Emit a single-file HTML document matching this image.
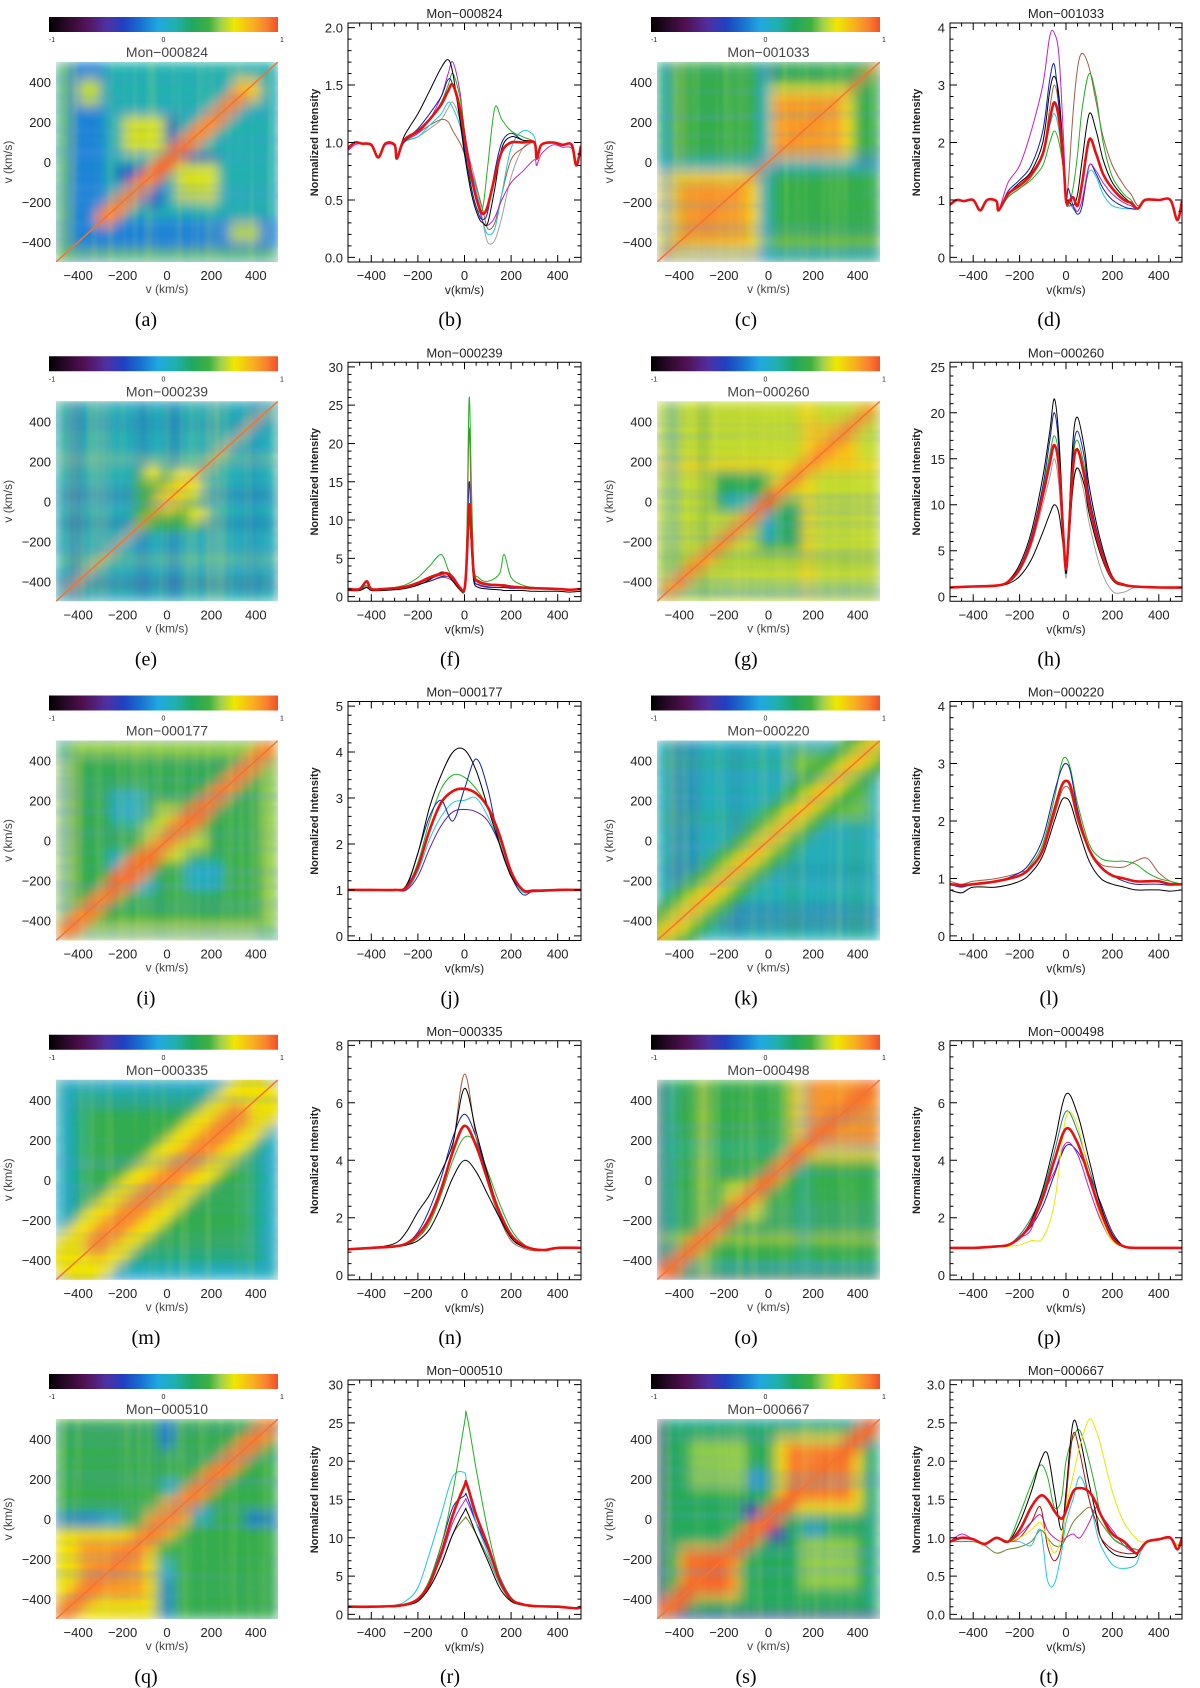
<!DOCTYPE html>
<html><head><meta charset="utf-8"><style>
html,body{margin:0;padding:0;background:#fff;}
svg{display:block;font-family:"Liberation Sans",sans-serif;}
</style></head><body>
<svg id="fig" width="1200" height="1688" viewBox="0 0 1200 1688">
<defs>
<filter id="blur" x="-5%" y="-5%" width="110%" height="110%"><feGaussianBlur stdDeviation="6"/></filter>
<filter id="streakH" x="0" y="0" width="100%" height="100%"><feTurbulence type="fractalNoise" baseFrequency="0.003 0.09" numOctaves="2" seed="3"/><feColorMatrix type="matrix" values="0 0 0 0 0.1  0 0 0 0 0.3  0 0 0 0 0.8  0 0 0 1.2 -0.45"/></filter>
<filter id="streakV" x="0" y="0" width="100%" height="100%"><feTurbulence type="fractalNoise" baseFrequency="0.09 0.003" numOctaves="2" seed="7"/><feColorMatrix type="matrix" values="0 0 0 0 0.9  0 0 0 0 0.9  0 0 0 0 0.1  0 0 0 1.2 -0.5"/></filter>
</defs>
</svg>
<script>
// ---------------- spectrum data ----------------
const vel_b=[-500,-470,-440,-400,-370,-340,-300,-290,-260,-200,-150,-100,-70,-50,-20,0,30,60,80,100,130,160,200,250,300,310,330,380,420,460,480,500];
const b_black=[0.95,1.0,0.99,0.98,0.87,0.99,0.98,0.86,1.05,1.25,1.45,1.65,1.72,1.6,1.2,0.9,0.55,0.35,0.3,0.3,0.6,0.95,1.05,1.02,1.0,0.86,0.98,1.0,0.98,0.98,0.80,0.97];
const b_magenta=[0.93,0.98,0.99,0.97,0.88,0.98,0.97,0.87,1.0,1.08,1.2,1.4,1.6,1.7,1.45,1.1,0.75,0.45,0.3,0.28,0.35,0.5,0.65,0.75,0.85,0.8,0.9,0.98,0.96,0.95,0.82,0.95];
const b_green=[0.96,1.0,0.99,0.98,0.88,0.99,0.98,0.87,1.0,1.1,1.2,1.35,1.5,1.6,1.4,1.1,0.6,0.4,0.45,0.8,1.3,1.2,1.1,1.05,1.0,0.87,0.98,1.0,0.98,0.98,0.8,0.97];
const b_cyan=[0.95,1.0,0.99,0.98,0.87,0.99,0.98,0.86,1.0,1.05,1.15,1.25,1.35,1.3,1.15,0.95,0.75,0.5,0.3,0.2,0.25,0.55,0.95,1.1,1.05,0.88,0.98,1.0,0.98,0.98,0.8,0.97];
const b_brown=[0.95,1.0,0.99,0.98,0.87,0.99,0.98,0.86,1.0,1.08,1.15,1.2,1.18,1.1,1.0,0.9,0.75,0.55,0.4,0.25,0.3,0.55,0.85,0.95,1.0,0.86,0.98,1.0,0.98,0.98,0.8,0.97];
const b_blue=[0.95,1.0,0.99,0.98,0.87,0.99,0.98,0.86,1.0,1.12,1.25,1.4,1.55,1.5,1.25,0.95,0.6,0.38,0.33,0.4,0.75,1.0,1.08,1.02,1.0,0.86,0.98,1.0,0.98,0.98,0.8,0.97];
const b_grey=[0.95,1.0,0.99,0.98,0.87,0.99,0.98,0.86,1.0,1.05,1.12,1.2,1.3,1.35,1.2,1.0,0.8,0.55,0.3,0.13,0.15,0.35,0.7,0.95,1.0,0.86,0.98,1.0,0.98,0.98,0.8,0.97];
const b_red=[0.95,1.0,0.99,0.98,0.87,0.99,0.98,0.86,1.02,1.10,1.20,1.33,1.45,1.50,1.30,1.05,0.70,0.45,0.38,0.45,0.70,0.92,1.0,1.0,1.0,0.86,0.98,1.0,0.98,0.98,0.80,0.97];

const vel_d=[-500,-470,-440,-400,-370,-340,-300,-290,-250,-200,-150,-100,-70,-50,-30,-10,0,10,30,50,70,100,130,160,200,250,280,310,340,400,450,480,500];
const d_magenta=[0.92,1.0,0.98,1.0,0.82,1.0,0.98,0.82,1.3,1.6,2.2,3.0,3.85,3.9,3.5,2.0,1.0,0.9,0.9,0.8,1.0,1.6,1.5,1.3,1.1,0.95,0.9,0.85,1.0,1.0,1.0,0.65,0.98];
const d_brown=[0.92,1.0,0.98,1.0,0.82,1.0,0.98,0.82,1.05,1.2,1.4,1.8,2.6,3.0,2.6,1.6,1.0,1.3,2.5,3.3,3.55,3.3,2.7,2.1,1.6,1.25,1.1,0.9,1.0,1.0,1.0,0.65,0.98];
const d_green=[0.92,1.0,0.98,1.0,0.82,1.0,0.98,0.82,1.05,1.2,1.35,1.6,2.0,2.2,2.0,1.5,1.0,0.9,1.2,1.8,2.6,3.2,2.8,2.0,1.4,1.1,1.0,0.85,1.0,1.0,1.0,0.65,0.98];
const d_blue=[0.92,1.0,0.98,1.0,0.82,1.0,0.98,0.82,1.15,1.35,1.6,2.2,3.1,3.35,2.6,1.5,1.0,1.2,0.9,0.75,0.9,1.6,1.45,1.2,1.0,0.88,0.85,0.85,1.0,1.0,1.0,0.65,0.98];
const d_black=[0.92,1.0,0.98,1.0,0.82,1.0,0.98,0.82,1.1,1.3,1.5,2.0,2.9,3.15,2.8,1.7,1.0,1.0,0.9,1.1,1.7,2.5,2.2,1.7,1.3,1.05,0.95,0.85,1.0,1.0,1.0,0.65,0.98];
const d_cyan=[0.92,1.0,0.98,1.0,0.82,1.0,0.98,0.82,1.05,1.2,1.4,1.8,2.3,2.5,2.2,1.5,1.0,1.0,0.85,0.8,1.0,1.5,1.4,1.1,0.9,0.85,0.85,0.85,1.0,1.0,1.0,0.65,0.98];
const d_red=[0.92,1.0,0.98,1.0,0.82,1.0,0.98,0.82,1.1,1.25,1.45,1.8,2.4,2.7,2.4,1.6,1.0,0.95,1.05,0.9,1.3,2.05,1.8,1.45,1.2,1.0,0.95,0.85,1.0,1.0,1.0,0.65,0.98];

const vel_f=[-500,-450,-420,-400,-350,-300,-250,-200,-150,-100,-70,-50,-20,0,10,20,30,40,60,100,150,170,200,250,300,400,450,500];
const f_green=[1.0,1.0,1.5,1.0,1.0,1.2,1.6,2.5,4.0,5.5,3.5,2.5,1.3,1.0,8.0,26.0,14.0,4.0,2.5,2.0,3.0,5.5,2.5,1.5,1.2,1.0,0.9,1.0];
const f_black=[0.8,0.8,1.2,0.8,0.8,0.9,1.1,1.5,2.2,3.2,2.8,2.0,0.9,0.7,4.0,11.0,6.0,2.0,1.2,1.0,0.9,0.8,0.8,0.8,0.7,0.7,0.6,0.7];
const f_brown=[1.0,1.0,1.3,1.0,1.0,1.1,1.3,1.7,2.3,2.8,2.6,2.2,1.1,1.0,7.0,22.0,10.0,3.0,1.8,1.5,1.5,1.6,1.4,1.2,1.1,1.0,0.9,1.0];
const f_blue=[1.0,1.0,1.2,1.0,1.0,1.1,1.3,1.6,2.0,2.6,2.6,2.2,1.2,1.0,6.0,15.0,9.0,2.5,1.6,1.3,1.2,1.2,1.1,1.1,1.0,1.0,0.9,1.0];
const f_magenta=[1.0,1.0,1.2,1.0,1.0,1.1,1.3,1.6,2.0,2.5,2.4,2.0,1.1,1.0,4.0,10.0,6.5,2.3,1.5,1.2,1.2,1.2,1.1,1.1,1.0,1.0,0.9,1.0];
const f_red=[1.0,1.0,2.0,1.0,1.0,1.1,1.3,1.8,2.5,3.0,3.0,2.5,1.2,1.0,5.0,12.0,8.0,3.0,2.0,1.6,1.5,1.4,1.3,1.2,1.1,1.0,0.9,1.0];

const vel_h=[-500,-400,-300,-250,-200,-150,-100,-70,-50,-30,-10,0,10,30,50,80,100,150,200,250,300,400,500];
const h_black=[1.0,1.1,1.2,1.7,3.5,7.0,13.0,18.0,21.5,17.0,7.0,3.0,7.0,17.0,19.5,16.0,12.0,6.0,2.2,1.3,1.1,1.0,1.0];
const h_blue=[1.0,1.1,1.2,1.6,3.2,6.5,12.0,17.0,20.0,16.0,6.0,2.5,6.0,15.5,18.0,15.0,11.0,5.5,2.0,1.3,1.1,1.0,1.0];
const h_black2=[1.0,1.1,1.2,1.4,2.2,4.0,7.0,9.0,10.0,9.0,5.0,2.5,5.0,12.0,14.0,12.0,9.0,4.5,1.8,1.2,1.1,1.0,1.0];
const h_grey=[1.0,1.1,1.2,1.5,2.8,5.5,10.0,13.0,15.0,12.0,5.0,2.0,5.0,12.0,14.0,11.0,8.0,3.0,0.6,0.5,1.0,1.0,1.0];
const h_green=[1.0,1.1,1.2,1.6,3.0,6.0,11.5,15.5,17.5,15.0,6.0,3.0,6.5,15.0,17.0,14.0,10.5,5.0,2.0,1.3,1.1,1.0,1.0];
const h_red=[1.0,1.1,1.2,1.6,3.0,6.0,11.0,14.5,16.5,14.0,6.0,3.0,6.0,14.0,16.0,13.0,10.0,5.0,2.0,1.3,1.1,1.0,1.0];

const vel_j=[-500,-400,-300,-250,-200,-150,-100,-50,0,50,100,150,200,250,300,400,500];
const j_black=[1,1,1,1.1,1.8,2.8,3.5,4.0,4.05,3.6,2.8,2.0,1.3,1.0,1.0,1,1];
const j_blue=[1,1,1,1.05,1.8,2.6,2.95,2.5,3.2,3.85,3.2,2.0,1.3,0.9,0.98,1,1];
const j_purple=[1,1,1,1.0,1.3,1.9,2.4,2.7,2.75,2.7,2.5,2.0,1.3,1.0,0.98,1,1];
const j_green=[1,1,1,1.05,1.6,2.5,3.2,3.5,3.45,3.2,2.8,2.1,1.4,1.0,0.98,1,1];
const j_cyan=[1,1,1,1.0,1.4,2.1,2.6,2.9,2.95,3.0,2.6,2.0,1.3,0.95,0.98,1,1];
const j_red=[1,1,1,1.05,1.5,2.3,2.9,3.15,3.2,3.1,2.8,2.2,1.4,1.0,0.98,1.0,1.0];

const vel_l=[-500,-450,-400,-300,-200,-150,-100,-50,-20,0,20,50,100,150,200,250,300,350,400,450,500];
const l_black=[0.8,0.75,0.85,0.85,0.95,1.1,1.4,2.0,2.35,2.4,2.3,1.9,1.3,1.0,0.9,0.85,0.8,0.8,0.8,0.78,0.8];
const l_blue=[0.9,0.85,0.9,0.95,1.1,1.3,1.7,2.5,2.9,3.0,2.85,2.2,1.5,1.2,1.05,0.95,0.9,0.9,0.9,0.88,0.9];
const l_green=[0.9,0.88,0.9,0.95,1.05,1.25,1.6,2.4,3.0,3.1,2.9,2.3,1.6,1.35,1.3,1.3,1.25,1.1,1.0,0.95,0.9];
const l_brown=[0.95,0.9,0.95,1.0,1.1,1.2,1.5,2.1,2.5,2.6,2.5,2.0,1.5,1.25,1.2,1.2,1.3,1.35,1.1,0.95,0.9];
const l_red=[0.9,0.88,0.9,0.95,1.05,1.2,1.5,2.2,2.6,2.7,2.6,2.1,1.5,1.2,1.05,1.0,0.95,0.95,0.95,0.9,0.9];

const vel_n=[-500,-400,-300,-250,-200,-150,-100,-50,0,50,100,150,200,250,300,350,400,500];
const n_black=[0.9,0.95,1.1,1.5,2.2,2.8,3.6,4.6,6.5,5.0,3.5,2.2,1.3,1.0,0.9,0.9,0.95,0.95];
const n_black2=[0.9,0.95,1.0,1.05,1.2,1.6,2.4,3.4,4.0,3.6,2.8,2.0,1.3,1.0,0.9,0.88,0.95,0.95];
const n_brown=[0.9,0.95,1.0,1.1,1.3,1.9,2.9,4.5,7.0,4.8,3.2,2.0,1.2,0.95,0.85,0.88,0.95,0.95];
const n_green=[0.9,0.95,1.0,1.05,1.3,1.8,2.8,4.0,4.8,4.6,3.6,2.5,1.6,1.1,0.9,0.88,0.95,0.95];
const n_blue=[0.9,0.95,1.0,1.1,1.5,2.3,3.4,4.8,5.6,4.8,3.4,2.1,1.3,1.0,0.9,0.88,0.95,0.95];
const n_red=[0.9,0.95,1.0,1.1,1.4,2.0,3.0,4.3,5.2,4.5,3.3,2.2,1.4,1.05,0.9,0.88,0.95,0.95];

const vel_p=[-500,-400,-300,-250,-200,-150,-100,-50,0,50,100,150,200,250,300,350,400,500];
const p_black=[0.95,0.95,1.0,1.05,1.3,1.9,3.0,4.6,6.3,5.6,4.0,2.4,1.4,1.0,0.95,0.95,0.95,0.95];
const p_yellow=[0.95,0.95,1.0,1.0,1.05,1.2,1.3,2.5,5.5,5.2,3.5,2.0,1.2,1.0,0.95,0.95,0.95,0.95];
const p_magenta=[0.95,0.95,1.0,1.05,1.3,1.6,2.8,3.6,4.6,4.2,3.0,1.9,1.2,1.0,0.95,0.95,0.95,0.95];
const p_teal=[0.95,0.95,1.0,1.05,1.4,2.0,2.9,4.3,5.7,5.0,3.7,2.4,1.4,1.0,0.95,0.95,0.95,0.95];
const p_blue=[0.95,0.95,1.0,1.05,1.3,1.7,2.4,3.5,4.5,4.3,3.5,2.5,1.5,1.0,0.95,0.95,0.95,0.95];
const p_red=[0.95,0.95,1.0,1.05,1.3,1.8,2.7,4.0,5.1,4.6,3.4,2.2,1.3,1.0,0.95,0.95,0.95,0.95];

const vel_r=[-500,-400,-300,-250,-200,-150,-100,-50,0,10,50,100,150,200,250,300,400,480,500];
const r_green=[1,1,1.1,1.3,2.0,4.5,9,16,25,26,19,11,5,2.2,1.3,1.1,1,0.8,1];
const r_cyan=[1,1,1.2,1.8,3.5,8,13,18,18.5,17,12,8,4,2,1.3,1.1,1,0.9,1];
const r_black=[1,1,1.0,1.2,1.7,3.5,6.5,10.5,13.5,13.5,10.5,7,3.5,1.7,1.2,1.0,1,0.8,1];
const r_olive=[1,1,1.0,1.2,1.8,3.5,6.5,10.5,12.5,12.5,10.5,7.5,4,1.8,1.2,1.0,1,0.8,1];
const r_blue=[1,1,1.1,1.3,2.0,4.5,9,14,15.5,15.5,12,8.5,4.5,2,1.3,1.1,1,0.8,1];
const r_magenta=[1,1,1.1,1.3,2.0,4,7.5,12,14.8,14.8,12,9,5,2.2,1.3,1.1,1,0.8,1];
const r_red=[1,1,1.1,1.3,2.0,4,8,13,16.8,17,13,9,4.5,2,1.3,1.1,1,0.8,1];

const vel_t=[-500,-450,-400,-350,-300,-250,-200,-150,-110,-80,-50,-20,0,30,60,100,130,150,200,250,300,320,350,400,450,480,500];
const t_yellow=[0.95,1.0,0.98,0.92,1.0,0.95,1.0,1.1,1.2,1.0,0.8,1.0,1.4,1.8,2.2,2.55,2.4,2.2,1.6,1.2,1.0,0.95,0.95,0.98,1.0,0.9,1.0];
const t_cyan=[0.95,1.0,0.98,0.92,1.0,0.95,0.95,0.9,1.1,0.45,0.4,0.8,1.2,1.5,1.8,1.5,1.1,0.9,0.65,0.6,0.65,0.8,0.95,0.98,1.0,0.9,1.0];
const t_black=[0.95,1.0,0.98,0.92,1.0,0.95,1.2,1.6,2.0,2.1,1.6,1.1,1.6,2.5,2.3,1.7,1.3,1.0,0.8,0.75,0.75,0.85,0.95,0.98,1.0,0.9,1.0];
const t_green=[0.95,1.0,0.98,0.92,1.0,0.95,1.3,1.7,1.95,1.8,1.4,1.5,2.0,2.3,2.4,2.0,1.6,1.3,1.0,0.9,0.85,0.85,0.95,0.98,1.0,0.9,1.0];
const t_olive=[0.95,0.95,0.95,0.9,0.8,0.85,0.88,0.95,1.1,1.0,0.9,0.9,1.0,1.2,1.3,1.4,1.3,1.2,1.0,0.9,0.85,0.85,0.95,0.98,1.0,0.9,1.0];
const t_darkred=[0.95,1.0,0.98,0.92,1.0,0.95,1.0,1.2,1.4,0.9,0.7,0.9,1.5,2.35,2.1,1.5,1.2,1.0,0.85,0.8,0.8,0.85,0.95,0.98,1.0,0.9,1.0];
const t_magenta=[0.95,1.05,0.98,0.92,1.0,0.95,1.05,1.2,1.3,1.1,1.0,0.95,1.0,1.05,1.0,1.2,1.4,1.3,1.1,0.9,0.8,0.85,0.95,0.98,1.0,0.9,1.0];
const t_red=[0.95,1.0,0.98,0.92,1.0,0.95,1.1,1.4,1.55,1.5,1.35,1.25,1.35,1.6,1.65,1.6,1.45,1.3,1.05,0.95,0.8,0.85,0.95,0.98,1.0,0.85,1.0];

// y-axis tick labels per spectrum
const ticks_b=["0.0","0.5","1.0","1.5","2.0"];
const ticks_d=["0","1","2","3","4"];
const ticks_f=["0","5","10","15","20","25","30"];
const ticks_h=["0","5","10","15","20","25"];
const ticks_j=["0","1","2","3","4","5"];
const ticks_l=["0","1","2","3","4"];
const ticks_n=["0","2","4","6","8"];
const ticks_p=["0","2","4","6","8"];
const ticks_r=["0","5","10","15","20","25","30"];
const ticks_t=["0.0","0.5","1.0","1.5","2.0","2.5","3.0"];
const xTicks=[-400,-200,0,200,400];
const hmYTicks=[400,200,0,-200,-400];

// ---------------- correlation-map regions [v1a,v1b,v2a,v2b,corr] ----------------
const hm_a=[[-500,500,-500,500,0.1],[-500,500,-450,-280,-0.15],[-400,-300,280,420,0.55],[300,420,300,420,0.7],[-200,-10,40,230,0.58],[0,40,60,230,-0.4],[-230,-100,-100,-20,-0.3],[-480,-440,-500,500,0.45]];
const diag_a=[[-280,320,45,0.88],[-60,60,30,0.97]];
const hm_c=[[-500,500,-500,500,0.35],[-500,-40,-500,-80,0.68],[-420,-100,-420,-120,0.85],[0,380,0,380,0.62],[20,340,20,340,0.83],[-500,-50,60,500,0.35],[-500,500,-40,10,0.05],[420,470,-10,20,-0.45],[-500,500,-470,-445,0.0],[-500,500,-405,-392,0.55]];
const diag_c=[[-480,480,12,0.9]];
const hm_e=[[-500,500,-500,500,0.08],[-500,500,20,40,-0.4],[-500,500,-120,-100,-0.35],[-500,500,200,215,0.5],[-500,500,-300,-288,0.5],[-500,500,-420,-400,-0.5],[-500,500,380,392,-0.3],[-150,150,-150,150,0.38],[-60,80,-30,40,0.68],[-100,-30,100,180,0.62],[20,120,60,160,0.62],[-40,0,-40,0,0.12]];
const diag_e=[[-450,450,10,0.8]];
const hm_g=[[-500,500,-500,500,0.55],[-500,500,150,200,0.68],[-500,500,-450,-420,0.12],[-500,500,-300,-280,0.35],[-250,0,-50,150,0.3],[-200,-60,-30,30,0.05],[150,400,150,400,0.72]];
const diag_g=[[-450,450,35,0.88],[-25,25,25,1.0]];
const hm_i=[[-500,500,-500,500,0.33],[-500,500,-500,-420,0.58],[-500,500,420,500,0.48],[-480,-445,-500,500,0.08],[-250,-100,80,250,0.05],[-100,0,-50,80,0.58],[50,180,-50,50,0.55],[-150,-50,-270,-180,0.05]];
const diag_i=[[-450,450,45,0.9],[-200,-100,60,0.95],[50,150,55,0.92]];
const hm_k=[[-500,500,-500,500,0.08],[-500,500,-350,-330,-0.4],[-500,500,100,120,0.35],[-500,500,-420,-400,-0.5],[-500,500,380,400,0.35],[-500,500,-150,-140,-0.4],[100,450,100,450,0.45]];
const diag_k=[[-480,480,120,0.4],[-480,480,50,0.6],[-480,480,15,0.9]];
const hm_m=[[-500,500,-500,500,0.2],[-500,500,-500,-430,0.02],[-500,500,430,500,0.05],[-350,350,-350,350,0.33],[-500,-460,-500,-440,-0.5]];
const diag_m=[[-380,380,140,0.64],[-320,320,60,0.88]];
const hm_o=[[-500,500,-500,500,0.35],[100,500,100,500,0.68],[150,500,150,500,0.85],[-200,-50,-150,-20,0.58],[-500,500,-450,-430,0.0],[-500,500,-300,-282,0.6],[-500,500,150,170,0.1],[-500,500,-500,-480,-0.6]];
const diag_o=[[-460,460,40,0.93]];
const hm_q=[[-500,500,-500,500,0.35],[-500,-50,-500,-50,0.65],[-400,-100,-400,-100,0.83],[-30,30,350,500,-0.2],[-30,30,-500,-200,0.0],[120,200,-20,50,0.02],[-500,-300,-20,20,-0.2],[-100,100,-40,40,0.75]];
const diag_q=[[-460,460,50,0.9]];
const hm_s=[[-500,500,-500,500,0.15],[-460,460,-460,460,0.28],[-350,-100,150,400,0.48],[-400,-130,-400,-130,0.7],[-380,-150,-380,-150,0.95],[30,420,30,420,0.65],[80,380,80,380,0.92],[-500,-470,-500,500,-0.6],[-120,-40,0,80,-0.45],[-80,-20,150,250,-0.1]];
const diag_s=[[-460,460,45,0.95]];

// ---------------- helpers ----------------
const NS='http://www.w3.org/2000/svg';
const svg=document.getElementById('fig');
function mk(tag,attrs,parent){const e=document.createElementNS(NS,tag);for(const k in attrs)e.setAttribute(k,attrs[k]);parent.appendChild(e);return e;}
const CMAP=[[-1,[0,0,0]],[-0.85,[42,10,42]],[-0.7,[80,16,80]],[-0.5,[80,48,160]],[-0.35,[32,64,192]],[-0.2,[24,112,208]],[-0.05,[32,168,224]],[0.1,[32,176,176]],[0.25,[32,168,96]],[0.4,[64,176,64]],[0.5,[160,208,80]],[0.62,[240,232,0]],[0.78,[248,176,32]],[0.9,[248,128,48]],[1,[240,80,40]]];
function cmap(v){v=Math.max(-1,Math.min(1,v));for(let i=1;i<CMAP.length;i++){if(v<=CMAP[i][0]){const a=CMAP[i-1],b=CMAP[i];const t=(v-a[0])/(b[0]-a[0]);const c=a[1].map((x,j)=>Math.round(x+(b[1][j]-x)*t));return `rgb(${c[0]},${c[1]},${c[2]})`;}}return 'rgb(240,80,40)';}
const defs=svg.querySelector('defs');
const lg=mk('linearGradient',{id:'cbgrad',x1:'0',x2:'1',y1:'0',y2:'0'},defs);
CMAP.forEach(s=>{mk('stop',{offset:((s[0]+1)/2*100)+'%','stop-color':cmap(s[0])},lg);});

const PITCH=339.25;
function txt(parent,x,y,s,size,anchor,extra){const t=mk('text',Object.assign({x:x,y:y,'font-size':size,'text-anchor':anchor||'middle',fill:'#222'},extra||{}),parent);t.textContent=s;return t;}
function smoothPath(pts){let d=`M${pts[0][0].toFixed(1)},${pts[0][1].toFixed(1)}`;for(let i=0;i<pts.length-1;i++){const p0=pts[Math.max(0,i-1)],p1=pts[i],p2=pts[i+1],p3=pts[Math.min(pts.length-1,i+2)];const c1x=p1[0]+(p2[0]-p0[0])/6,c1y=p1[1]+(p2[1]-p0[1])/6,c2x=p2[0]-(p3[0]-p1[0])/6,c2y=p2[1]-(p3[1]-p1[1])/6;d+=`C${c1x.toFixed(1)},${c1y.toFixed(1)} ${c2x.toFixed(1)},${c2y.toFixed(1)} ${p2[0].toFixed(1)},${p2[1].toFixed(1)}`;}return d;}

function heatmap(row,col,name,regions,diags,letter,capX){
  const oy=row*PITCH;
  const L=col===0?56:657, W=col===0?222:223, T=62+oy, H=200;
  const g=mk('g',{},svg);
  
  
  const cbL=col===0?49:651, cbR=col===0?278:880;
  const cb=mk('rect',{x:cbL,y:17+oy,width:cbR-cbL,height:15,fill:'url(#cbgrad)'},g);
  
  
  const c1=txt(g,cbL+3,42+oy,'-1',7,'middle');
  
  
  const c2=txt(g,(cbL+cbR)/2,42+oy,'0',7,'middle');
  
  
  const c3=txt(g,cbR+4,42+oy,'1',7,'middle');
  
  
  const ttl=txt(g,L+W/2,57+oy,'Mon\u2212'+name,14,'middle',{fill:'#444'});
  
  
  const xs=v=>L+(v+500)/1000*W, ys=v=>T+(500-v)/1000*H;
  const cid='clip'+row+'_'+col;
  const cp=mk('clipPath',{id:cid},defs);mk('rect',{x:L,y:T,width:W,height:H},cp);
  const plot=mk('g',{'clip-path':`url(#${cid})`},g);
  
  
  const bl=mk('g',{filter:'url(#blur)'},plot);
  regions.forEach((rg,i)=>{
    const r1=mk('rect',{x:xs(rg[0]),y:ys(rg[3]),width:xs(rg[1])-xs(rg[0]),height:ys(rg[2])-ys(rg[3]),fill:cmap(rg[4])},bl);
    
    
    if(i>0){const r2=mk('rect',{x:xs(rg[2]),y:ys(rg[1]),width:xs(rg[3])-xs(rg[2]),height:ys(rg[0])-ys(rg[1]),fill:cmap(rg[4])},bl);
      
      }
  });
  diags.forEach(d=>{const ln=mk('line',{x1:xs(d[0]),y1:ys(d[0]),x2:xs(d[1]),y2:ys(d[1]),stroke:cmap(d[3]),'stroke-width':d[2]*2*W/1000,'stroke-linecap':'round'},bl);
    
    });
  const sh=mk('rect',{x:L,y:T,width:W,height:H,filter:'url(#streakH)',opacity:0.45},plot);
  
  
  const sv=mk('rect',{x:L,y:T,width:W,height:H,filter:'url(#streakV)',opacity:0.3},plot);
  
  
  const dl=mk('line',{x1:xs(-500),y1:ys(-500),x2:xs(500),y2:ys(500),stroke:cmap(0.93),'stroke-width':1.5},plot);
  
  
  xTicks.forEach(v=>{const t=txt(g,xs(v),280+oy,v<0?'\u2212'+(-v):String(v),13,'middle');
    
    });
  hmYTicks.forEach(v=>{const t=txt(g,L-5,ys(v)+5,v<0?'\u2212'+(-v):String(v),13,'end');
    
    });
  const xl=txt(g,L+W/2,293+oy,'v (km/s)',12,'middle',{fill:'#444'});
  
  
  const yx=L-44, yy=T+H/2;
  const yl=txt(g,yx,yy,'v (km/s)',12,'middle',{fill:'#444',transform:`rotate(-90 ${yx} ${yy})`});
  
  
  const cap=txt(g,capX,326+oy,'('+letter+')',20,'middle',{'font-family':'"Liberation Serif",serif',fill:'#000'});
  
  
}

function spectrum(row,col,name,vel,series,ymax,ticks,letter,capX){
  const oy=row*PITCH;
  const L=col===0?348:950, R=col===0?581:1182, T=23+oy, B=262+oy;
  const g=mk('g',{},svg);
  
  
  const pad=ymax*0.02;
  const xs=v=>L+(v+500)/1000*(R-L), ys=v=>B-(v+pad)/(ymax+2*pad)*(B-T);
  const ttl=txt(g,(L+R)/2,18+oy,'Mon\u2212'+name,13,'middle');
  
  
  const cid='sclip'+row+'_'+col;
  const cp=mk('clipPath',{id:cid},defs);mk('rect',{x:L,y:T,width:R-L,height:B-T},cp);
  const pg=mk('g',{'clip-path':`url(#${cid})`},g);
  series.forEach(s=>{
    const pts=vel.map((v,i)=>[xs(v),ys(s.data[i])]);
    const pl=mk('path',{d:smoothPath(pts),fill:'none',stroke:s.color,'stroke-width':s.w||1,'stroke-linejoin':'round'},pg);
    
    
  });
  const fr=mk('rect',{x:L,y:T,width:R-L,height:B-T,fill:'none',stroke:'#000','stroke-width':1},g);
  
  
  let tk='';
  for(let v=-500;v<=500;v+=50){const x=xs(v);const len=(v%200===0)?7:3.5;tk+=`M${x},${B}v-${len}M${x},${T}v${len}`;}
  const step=ymax/(ticks.length-1);
  for(let k=0;k<ticks.length;k++){const y=ys(k*step);tk+=`M${L},${y}h7M${R},${y}h-7`;
    if(k<ticks.length-1){for(let m=1;m<5;m++){const ym=ys(k*step+m*step/5);tk+=`M${L},${ym}h3.5M${R},${ym}h-3.5`;}}}
  const tp=mk('path',{d:tk,stroke:'#000','stroke-width':1,fill:'none'},g);
  
  
  xTicks.forEach(v=>{const t=txt(g,xs(v),280+oy,v<0?'\u2212'+(-v):String(v),13,'middle');
    
    });
  ticks.forEach((s,k)=>{const t=txt(g,L-5,ys(k*step)+5,s,13,'end');
    
    });
  const xl=txt(g,(L+R)/2,294+oy,'v(km/s)',12,'middle');
  
  
  const yx=L-30, yy=(T+B)/2;
  const yl=txt(g,yx,yy,'Normalized Intensity',11,'middle',{'font-weight':'bold',transform:`rotate(-90 ${yx} ${yy})`});
  
  
  const cap=txt(g,capX,326+oy,'('+letter+')',20,'middle',{'font-family':'"Liberation Serif",serif',fill:'#000'});
  
  
}

const C={black:'#000',blue:'#1020b0',magenta:'#c020c0',green:'#20b020',cyan:'#20c8d8',brown:'#a06040',grey:'#a0a0a0',yellow:'#e8e800',purple:'#6020a0',olive:'#708030',teal:'#208080',darkred:'#b01010',red:'#e81010'};
const S=(label,data,w)=>({label:label,data:data,color:C[label.replace(/2$/,'')],w:w});

heatmap(0,0,'000824',hm_a,diag_a,'a',146);
spectrum(0,0,'000824',vel_b,[S('grey',b_grey),S('brown',b_brown),S('cyan',b_cyan),S('magenta',b_magenta),S('green',b_green),S('blue',b_blue),S('black',b_black),S('red',b_red,2.6)],2,ticks_b,'b',450);
heatmap(0,1,'001033',hm_c,diag_c,'c',746);
spectrum(0,1,'001033',vel_d,[S('cyan',d_cyan),S('brown',d_brown),S('green',d_green),S('blue',d_blue),S('black',d_black),S('magenta',d_magenta),S('red',d_red,2.6)],4,ticks_d,'d',1049);

heatmap(1,0,'000239',hm_e,diag_e,'e',146);
spectrum(1,0,'000239',vel_f,[S('magenta',f_magenta),S('blue',f_blue),S('brown',f_brown),S('black',f_black),S('green',f_green),S('red',f_red,2.6)],30,ticks_f,'f',450);
heatmap(1,1,'000260',hm_g,diag_g,'g',746);
spectrum(1,1,'000260',vel_h,[S('grey',h_grey),S('green',h_green),S('blue',h_blue),S('black2',h_black2),S('black',h_black),S('red',h_red,2.6)],25,ticks_h,'h',1049);

heatmap(2,0,'000177',hm_i,diag_i,'i',146);
spectrum(2,0,'000177',vel_j,[S('cyan',j_cyan),S('purple',j_purple),S('green',j_green),S('blue',j_blue),S('black',j_black),S('red',j_red,2.6)],5,ticks_j,'j',450);
heatmap(2,1,'000220',hm_k,diag_k,'k',746);
spectrum(2,1,'000220',vel_l,[S('brown',l_brown),S('green',l_green),S('blue',l_blue),S('black',l_black),S('red',l_red,2.6)],4,ticks_l,'l',1049);

heatmap(3,0,'000335',hm_m,diag_m,'m',146);
spectrum(3,0,'000335',vel_n,[S('green',n_green),S('blue',n_blue),S('brown',n_brown),S('black2',n_black2),S('black',n_black),S('red',n_red,2.6)],8,ticks_n,'n',450);
heatmap(3,1,'000498',hm_o,diag_o,'o',746);
spectrum(3,1,'000498',vel_p,[S('blue',p_blue),S('magenta',p_magenta),S('teal',p_teal),S('yellow',p_yellow),S('black',p_black),S('red',p_red,2.6)],8,ticks_p,'p',1049);

heatmap(4,0,'000510',hm_q,diag_q,'q',146);
spectrum(4,0,'000510',vel_r,[S('olive',r_olive),S('magenta',r_magenta),S('black',r_black),S('blue',r_blue),S('cyan',r_cyan),S('green',r_green),S('red',r_red,2.6)],30,ticks_r,'r',450);
heatmap(4,1,'000667',hm_s,diag_s,'s',746);
spectrum(4,1,'000667',vel_t,[S('olive',t_olive),S('magenta',t_magenta),S('cyan',t_cyan),S('green',t_green),S('black',t_black),S('darkred',t_darkred),S('yellow',t_yellow),S('red',t_red,2.6)],3,ticks_t,'t',1049);
</script>
</body></html>
